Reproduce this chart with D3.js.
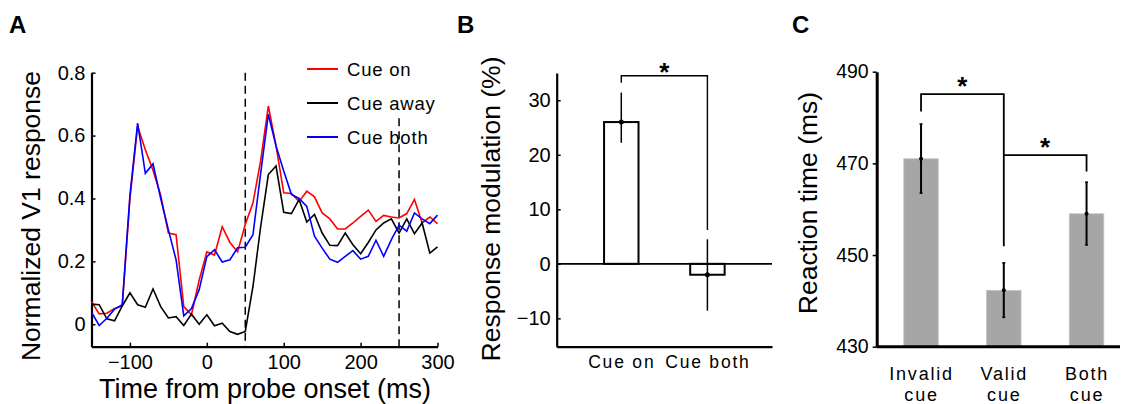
<!DOCTYPE html>
<html>
<head>
<meta charset="utf-8">
<script src="https://cdn.jsdelivr.net/npm/d3@7"></script>
<style>
  body { margin: 0; background: #fff; }
  text { font-family: "Liberation Sans", Arial, Helvetica, sans-serif; fill: #000; }
</style>
</head>
<body>
<script>
var width = 1124, height = 404;

// Panel A: time courses
var times = d3.range(-150, 310, 10);
var cueOn = [0.072, 0.033, 0.035, 0.05, 0.058, 0.40, 0.63, 0.555, 0.49, 0.41, 0.29, 0.285, 0.056, 0.03, 0.14, 0.23,
  0.22, 0.31, 0.26, 0.23, 0.317, 0.386, 0.52, 0.694, 0.567, 0.418, 0.416, 0.39, 0.423, 0.405, 0.354, 0.335, 0.303,
  0.303, 0.322, 0.343, 0.363, 0.327, 0.346, 0.341, 0.338, 0.352, 0.397, 0.322, 0.341, 0.32];
var cueAway = [0.064, 0.062, 0.017, 0.011, 0.058, 0.10, 0.062, 0.054, 0.112, 0.056, 0.02, 0.024, -0.004, 0.032, 0.0, 0.03,
  -0.005, 0.003, -0.023, -0.032, -0.023, 0.12, 0.31, 0.476, 0.503, 0.356, 0.352, 0.397, 0.325, 0.349, 0.29, 0.251, 0.25,
  0.29, 0.253, 0.224, 0.26, 0.30, 0.322, 0.335, 0.29, 0.335, 0.288, 0.322, 0.226, 0.246];
var cueBoth = [0.038, -0.004, 0.019, 0.048, 0.062, 0.41, 0.64, 0.48, 0.51, 0.40, 0.30, 0.205, 0.027, 0.05, 0.11, 0.215,
  0.237, 0.198, 0.205, 0.243, 0.245, 0.285, 0.48, 0.668, 0.567, 0.487, 0.413, 0.40, 0.375, 0.28, 0.242, 0.207, 0.197,
  0.216, 0.234, 0.207, 0.216, 0.267, 0.216, 0.269, 0.315, 0.296, 0.354, 0.335, 0.32, 0.347];
var seriesNames = ["Cue on", "Cue away", "Cue both"];
var seriesColors = ["#ff0000", "#000000", "#0000ff"];
var markers = [50, 250];
var xTicksA = [-100, 0, 100, 200, 300];
var yTicksA = [0, 0.2, 0.4, 0.6, 0.8];

// Panel B: response modulation
var catsB = ["Cue on", "Cue both"];
var valsB = [26, -2];
var errHiB = [31.4, 4.5];
var errLoB = [22.2, -8.6];
var yTicksB = [-10, 0, 10, 20, 30];

// Panel C: reaction time
var catsC = ["Invalid|cue", "Valid|cue", "Both|cue"];
var valsC = [471, 442.3, 459];
var errHiC = [478.6, 448.3, 465.9];
var errLoC = [463.5, 436.4, 452.2];
var yTicksC = [430, 450, 470, 490];

var svg = d3.select("body").append("svg")
  .attr("width", width).attr("height", height);

function styleAxis(g, w) {
  g.select(".domain").attr("stroke-width", w).attr("stroke", "#000");
  g.selectAll(".tick line").attr("stroke-width", 1.5).attr("stroke", "#000");
  g.selectAll(".tick text").attr("fill", "#000").attr("font-family", null);
}

// ---------- Panel A ----------
var xA = d3.scaleLinear().domain([-150, 300]).range([91.5, 437.5]);
var yA = d3.scaleLinear().domain([-0.0715, 0.8]).range([346.7, 72.7]);

var gA = svg.append("g");
gA.append("g")
  .attr("transform", "translate(0,346.7)")
  .call(d3.axisBottom(xA).tickValues(xTicksA).tickSizeInner(-4).tickSizeOuter(0).tickPadding(8))
  .attr("font-size", 20)
  .call(styleAxis, 2.2);
gA.append("g")
  .attr("transform", "translate(91.5,0)")
  .call(d3.axisLeft(yA).tickValues(yTicksA).tickSizeInner(-4).tickSizeOuter(0).tickPadding(6)
    .tickFormat(function(d) { return d === 0 ? "0" : d3.format(".1f")(d); }))
  .attr("font-size", 20)
  .call(styleAxis, 2.2);

// stimulus markers
gA.selectAll("line.marker").data(markers).enter().append("line")
  .attr("class", "marker")
  .attr("x1", function(d) { return xA(d); }).attr("x2", function(d) { return xA(d); })
  .attr("y1", function(d, i) { return i === 0 ? yA(0.8) : yA(0.655); })
  .attr("y2", yA(-0.0715))
  .attr("stroke", "#000").attr("stroke-width", 1.5)
  .attr("stroke-dasharray", "8,5");

var lineA = d3.line()
  .x(function(d, i) { return xA(times[i]); })
  .y(function(d) { return yA(d); });

[cueOn, cueAway, cueBoth].forEach(function(s, k) {
  gA.append("path")
    .datum(s)
    .attr("d", lineA)
    .attr("fill", "none")
    .attr("stroke", seriesColors[k])
    .attr("stroke-width", 1.6);
});

// legend
var leg = gA.append("g").attr("transform", "translate(307,69)");
seriesNames.forEach(function(n, i) {
  var row = leg.append("g").attr("transform", "translate(0," + (i * 34) + ")");
  row.append("line").attr("x1", 0).attr("x2", 31).attr("y1", 0).attr("y2", 0)
    .attr("stroke", seriesColors[i]).attr("stroke-width", 2);
  row.append("text").attr("x", 40).attr("y", 6.5).attr("font-size", 18.5)
    .attr("letter-spacing", 0.8).text(n);
});

gA.append("text").attr("x", 265).attr("y", 398).attr("text-anchor", "middle")
  .attr("font-size", 27).text("Time from probe onset (ms)");
gA.append("text").attr("transform", "translate(40,216) rotate(-90)")
  .attr("text-anchor", "middle").attr("font-size", 26.5).text("Normalized V1 response");
gA.append("text").attr("x", 9).attr("y", 33).attr("font-size", 24).attr("font-weight", "bold").text("A");

// ---------- Panel B ----------
var xB = d3.scalePoint().domain(catsB).range([556.7, 772]).padding(0.75);
var yB = d3.scaleLinear().domain([-15.2, 35]).range([346.7, 73]);
var bwB = xB.step() * 0.4;

var gB = svg.append("g");
gB.append("g")
  .attr("transform", "translate(0,346.7)")
  .call(d3.axisBottom(xB).tickSize(0).tickPadding(9))
  .attr("font-size", 17.5)
  .call(styleAxis, 2.2)
  .selectAll(".tick text").attr("letter-spacing", 1.8);
gB.append("g")
  .attr("transform", "translate(556.7,0)")
  .call(d3.axisLeft(yB).tickValues(yTicksB).tickSizeInner(-4).tickSizeOuter(0).tickPadding(6))
  .attr("font-size", 20)
  .call(styleAxis, 2.2);

gB.append("line").attr("x1", 556.7).attr("x2", 772).attr("y1", yB(0)).attr("y2", yB(0))
  .attr("stroke", "#000").attr("stroke-width", 1.6);

gB.selectAll("rect.bar").data(valsB).enter().append("rect")
  .attr("class", "bar")
  .attr("x", function(d, i) { return xB(catsB[i]) - bwB / 2; })
  .attr("width", bwB)
  .attr("y", function(d) { return yB(Math.max(0, d)); })
  .attr("height", function(d) { return Math.abs(yB(d) - yB(0)); })
  .attr("fill", "none").attr("stroke", "#000").attr("stroke-width", 2);

gB.selectAll("line.err").data(valsB).enter().append("line")
  .attr("class", "err")
  .attr("x1", function(d, i) { return xB(catsB[i]); }).attr("x2", function(d, i) { return xB(catsB[i]); })
  .attr("y1", function(d, i) { return yB(errHiB[i]); }).attr("y2", function(d, i) { return yB(errLoB[i]); })
  .attr("stroke", "#000").attr("stroke-width", 1.5);
gB.selectAll("circle.mean").data(valsB).enter().append("circle")
  .attr("class", "mean")
  .attr("cx", function(d, i) { return xB(catsB[i]); })
  .attr("cy", function(d) { return yB(d); })
  .attr("r", 2.5).attr("fill", "#000");

// significance bracket
gB.append("path")
  .attr("d", "M" + xB(catsB[0]) + "," + yB(33.2) + "V" + yB(34.5) + "H" + xB(catsB[1]) + "V" + yB(6.2))
  .attr("fill", "none").attr("stroke", "#000").attr("stroke-width", 1.4);
gB.append("text").attr("x", (xB(catsB[0]) + xB(catsB[1])) / 2).attr("y", 81)
  .attr("text-anchor", "middle").attr("font-size", 26).attr("font-weight", "bold").text("*");

gB.append("text").attr("transform", "translate(500,209) rotate(-90)")
  .attr("text-anchor", "middle").attr("font-size", 26.5).text("Response modulation (%)");
gB.append("text").attr("x", 457).attr("y", 33).attr("font-size", 24).attr("font-weight", "bold").text("B");

// ---------- Panel C ----------
var xC = d3.scalePoint().domain(catsC).range([876.7, 1120]).padding(0.47).align(0.57);
var yC = d3.scaleLinear().domain([430, 490]).range([346.7, 71.7]);
var bwC = 34.5;

var gC = svg.append("g");
gC.selectAll("rect.bar").data(valsC).enter().append("rect")
  .attr("class", "bar")
  .attr("x", function(d, i) { return xC(catsC[i]) - bwC / 2; })
  .attr("width", bwC)
  .attr("y", function(d) { return yC(d); })
  .attr("height", function(d) { return yC(430) - yC(d); })
  .attr("fill", "#a6a6a6").attr("stroke", "#c4c4c4").attr("stroke-width", 0.8);

var axC = gC.append("g")
  .attr("transform", "translate(0,346.7)")
  .call(d3.axisBottom(xC).tickSize(0).tickPadding(12).tickFormat(function() { return ""; }))
  .call(styleAxis, 3);
axC.select(".domain").attr("d", "M876.7,0H1120");
axC.selectAll(".tick").each(function(d) {
  var t = d3.select(this).append("text").attr("font-size", 18).attr("letter-spacing", 1.8)
    .attr("text-anchor", "middle");
  d.split("|").forEach(function(s, j) {
    t.append("tspan").attr("x", 0).attr("y", 33 + j * 21).text(s);
  });
});
gC.append("g")
  .attr("transform", "translate(876.7,0)")
  .call(d3.axisLeft(yC).tickValues(yTicksC).tickSizeInner(4).tickSizeOuter(0).tickPadding(4))
  .attr("font-size", 19.5)
  .call(styleAxis, 3);

gC.selectAll("line.err").data(valsC).enter().append("line")
  .attr("class", "err")
  .attr("x1", function(d, i) { return xC(catsC[i]); }).attr("x2", function(d, i) { return xC(catsC[i]); })
  .attr("y1", function(d, i) { return yC(errHiC[i]); }).attr("y2", function(d, i) { return yC(errLoC[i]); })
  .attr("stroke", "#000").attr("stroke-width", 2);
[errHiC, errLoC].forEach(function(arr) {
  gC.selectAll(null).data(arr).enter().append("line")
    .attr("x1", function(d, i) { return xC(catsC[i]) - 1.5; }).attr("x2", function(d, i) { return xC(catsC[i]) + 1.5; })
    .attr("y1", function(d) { return yC(d); }).attr("y2", function(d) { return yC(d); })
    .attr("stroke", "#000").attr("stroke-width", 1.5);
});
gC.selectAll("circle.mean").data(valsC).enter().append("circle")
  .attr("class", "mean")
  .attr("cx", function(d, i) { return xC(catsC[i]); })
  .attr("cy", function(d) { return yC(d); })
  .attr("r", 2).attr("fill", "#000");

// significance brackets
gC.append("path")
  .attr("d", "M" + xC(catsC[0]) + "," + yC(481.3) + "V" + yC(485.1) + "H" + xC(catsC[1]) + "V" + yC(451.9))
  .attr("fill", "none").attr("stroke", "#000").attr("stroke-width", 1.8);
gC.append("path")
  .attr("d", "M" + xC(catsC[1]) + "," + yC(471.8) + "H" + xC(catsC[2]) + "V" + yC(468.2))
  .attr("fill", "none").attr("stroke", "#000").attr("stroke-width", 1.8);
gC.append("text").attr("x", (xC(catsC[0]) + xC(catsC[1])) / 2).attr("y", 95)
  .attr("text-anchor", "middle").attr("font-size", 26).attr("font-weight", "bold").text("*");
gC.append("text").attr("x", (xC(catsC[1]) + xC(catsC[2])) / 2).attr("y", 156)
  .attr("text-anchor", "middle").attr("font-size", 26).attr("font-weight", "bold").text("*");

gC.append("text").attr("transform", "translate(817,203) rotate(-90)")
  .attr("text-anchor", "middle").attr("font-size", 26.5).text("Reaction time (ms)");
gC.append("text").attr("x", 792).attr("y", 33).attr("font-size", 24).attr("font-weight", "bold").text("C");
</script>
</body>
</html>
